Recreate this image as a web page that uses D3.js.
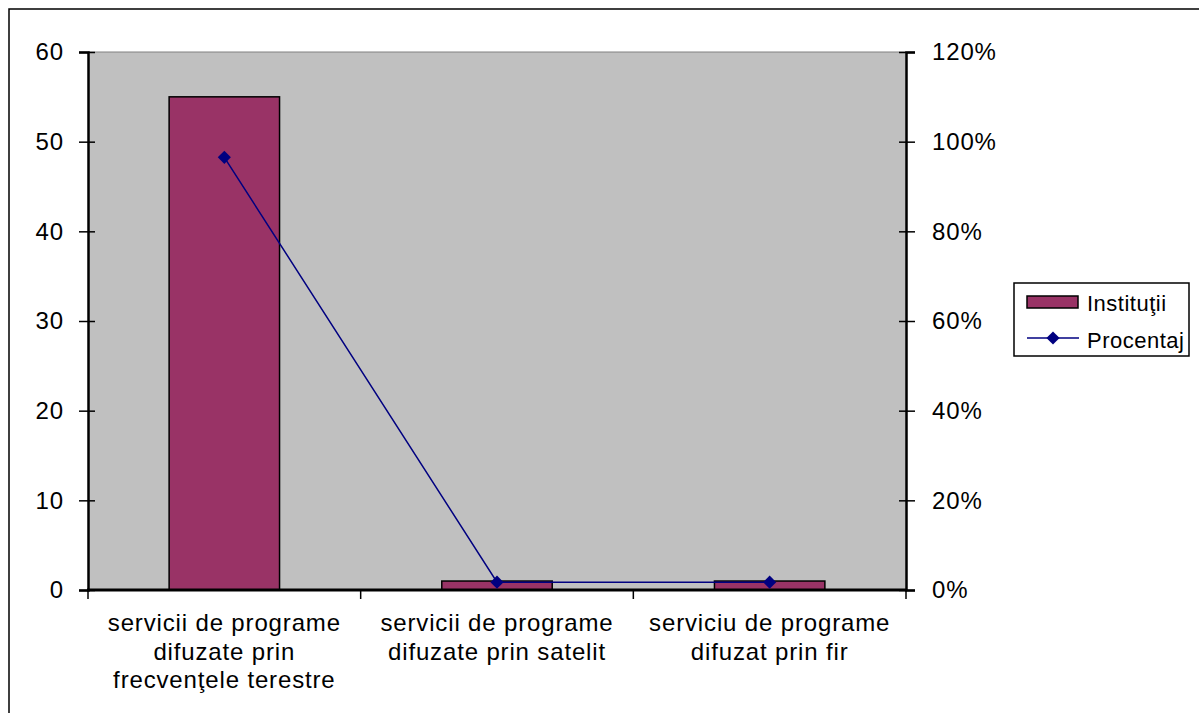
<!DOCTYPE html>
<html><head><meta charset="utf-8">
<script src="https://cdn.jsdelivr.net/npm/d3@7"></script>
<style>
html,body{margin:0;padding:0;background:#fff;}
svg{display:block;}
text{font-family:"Liberation Sans",Arial,sans-serif;fill:#000;}
</style></head>
<body>
<svg id="chart" width="1199" height="713"></svg>
<script>
// ---- data ----
const categories = [
  "servicii de programe difuzate prin frecvenţele terestre",
  "servicii de programe difuzate prin satelit",
  "serviciu de programe difuzat prin fir"
];
const categoryLines = [
  ["servicii de programe", "difuzate prin", "frecvenţele terestre"],
  ["servicii de programe", "difuzate prin satelit"],
  ["serviciu de programe", "difuzat prin fir"]
];
const institutii = [55, 1, 1];
const procentaj = [0.965, 0.0175, 0.0175];
const leftTicks = [0, 10, 20, 30, 40, 50, 60];
const rightTicks = [0, 0.2, 0.4, 0.6, 0.8, 1.0, 1.2];
const seriesNames = ["Instituţii", "Procentaj"];

// ---- layout ----
const svg = d3.select("#chart");
const plot = {left: 88, right: 906, top: 52, bottom: 590};
const fontSize = 24, ls = "0.85px";

svg.append("rect").attr("x", 9).attr("y", 9).attr("width", 1220).attr("height", 740)
  .attr("fill", "#fff").attr("stroke", "#000").attr("stroke-width", 1.5);

const x = d3.scaleBand().domain(categories).range([plot.left, plot.right]).paddingInner(0).paddingOuter(0);
const yL = d3.scaleLinear().domain([0, 60]).range([plot.bottom, plot.top]);
const yR = d3.scaleLinear().domain([0, 1.2]).range([plot.bottom, plot.top]);

svg.append("rect").attr("x", plot.left).attr("y", plot.top)
  .attr("width", plot.right - plot.left).attr("height", plot.bottom - plot.top)
  .attr("fill", "#C0C0C0");
svg.append("line").attr("x1", plot.left).attr("x2", plot.right).attr("y1", plot.top).attr("y2", plot.top)
  .attr("stroke", "#808080").attr("stroke-width", 1);

// bars
const barW = x.bandwidth() * 0.405;
svg.append("g").selectAll("rect").data(institutii).join("rect")
  .attr("x", (d, i) => x(categories[i]) + x.bandwidth() / 2 - barW / 2)
  .attr("y", d => yL(d))
  .attr("width", barW)
  .attr("height", d => yL(0) - yL(d))
  .attr("fill", "#993366").attr("stroke", "#000").attr("stroke-width", 1.5);

// axes
const leftAxis = svg.append("g").attr("transform", `translate(${plot.left},0)`)
  .call(d3.axisLeft(yL).tickValues(leftTicks).tickSize(9).tickPadding(15).tickFormat(d3.format("d")));
const rightAxis = svg.append("g").attr("transform", `translate(${plot.right},0)`)
  .call(d3.axisRight(yR).tickValues(rightTicks).tickSize(9).tickPadding(17).tickFormat(d3.format(".0%")));
[leftAxis, rightAxis].forEach(g => {
  g.select(".domain").attr("stroke", "#000").attr("stroke-width", 2.5);
  g.selectAll(".tick line").attr("stroke", "#000").attr("stroke-width", 1.5);
  g.selectAll(".tick text").attr("font-size", fontSize).style("letter-spacing", ls)
    .attr("font-family", "Liberation Sans, Arial, sans-serif").attr("fill", "#000");
});
// inner part of cross ticks
leftAxis.selectAll(".tick").append("line").attr("x1", 0).attr("x2", 7).attr("stroke", "#000").attr("stroke-width", 1.5);
rightAxis.selectAll(".tick").append("line").attr("x1", 0).attr("x2", -7).attr("stroke", "#000").attr("stroke-width", 1.5);

// category axis
const catTicks = [plot.left, ...categories.map(c => x(c) + x.bandwidth())];
const bottom = svg.append("g");
bottom.append("line").attr("x1", plot.left - 1).attr("x2", plot.right + 1)
  .attr("y1", plot.bottom).attr("y2", plot.bottom).attr("stroke", "#000").attr("stroke-width", 3);
bottom.selectAll(".ct").data(catTicks).join("line").attr("class", "ct")
  .attr("x1", d => d).attr("x2", d => d).attr("y1", plot.bottom).attr("y2", plot.bottom + 9)
  .attr("stroke", "#000").attr("stroke-width", 1.5);
categoryLines.forEach((lines, i) => {
  const cx = x(categories[i]) + x.bandwidth() / 2;
  const t = bottom.append("text").attr("text-anchor", "middle").attr("font-size", fontSize).style("letter-spacing", ls);
  lines.forEach((ln, j) => {
    t.append("tspan").attr("x", cx).attr("y", 631 + j * 28.5).text(ln);
  });
});

// line series
const pts = procentaj.map((v, i) => [x(categories[i]) + x.bandwidth() / 2, yR(v)]);
svg.append("path").attr("d", d3.line()(pts)).attr("fill", "none").attr("stroke", "#000080").attr("stroke-width", 1.5);
const diamond = d3.symbol().type(d3.symbolDiamond2).size(110);
svg.append("g").selectAll("path").data(pts).join("path")
  .attr("d", diamond).attr("transform", d => `translate(${d[0]},${d[1]})`)
  .attr("fill", "#000080");

// legend
const lg = svg.append("g");
lg.append("rect").attr("x", 1014).attr("y", 283).attr("width", 175).attr("height", 73)
  .attr("fill", "#fff").attr("stroke", "#000").attr("stroke-width", 1.5);
lg.append("rect").attr("x", 1027).attr("y", 296).attr("width", 51).attr("height", 12)
  .attr("fill", "#993366").attr("stroke", "#000").attr("stroke-width", 1.5);
lg.append("line").attr("x1", 1027).attr("x2", 1079).attr("y1", 338).attr("y2", 338)
  .attr("stroke", "#000080").attr("stroke-width", 1.5);
lg.append("path").attr("d", diamond).attr("transform", "translate(1053,338)").attr("fill", "#000080");
lg.append("text").attr("x", 1087).attr("y", 311).attr("font-size", 22).style("letter-spacing", "0.5px").text(seriesNames[0]);
lg.append("text").attr("x", 1087).attr("y", 348).attr("font-size", 22).style("letter-spacing", "0.5px").text(seriesNames[1]);
</script>
</body></html>
